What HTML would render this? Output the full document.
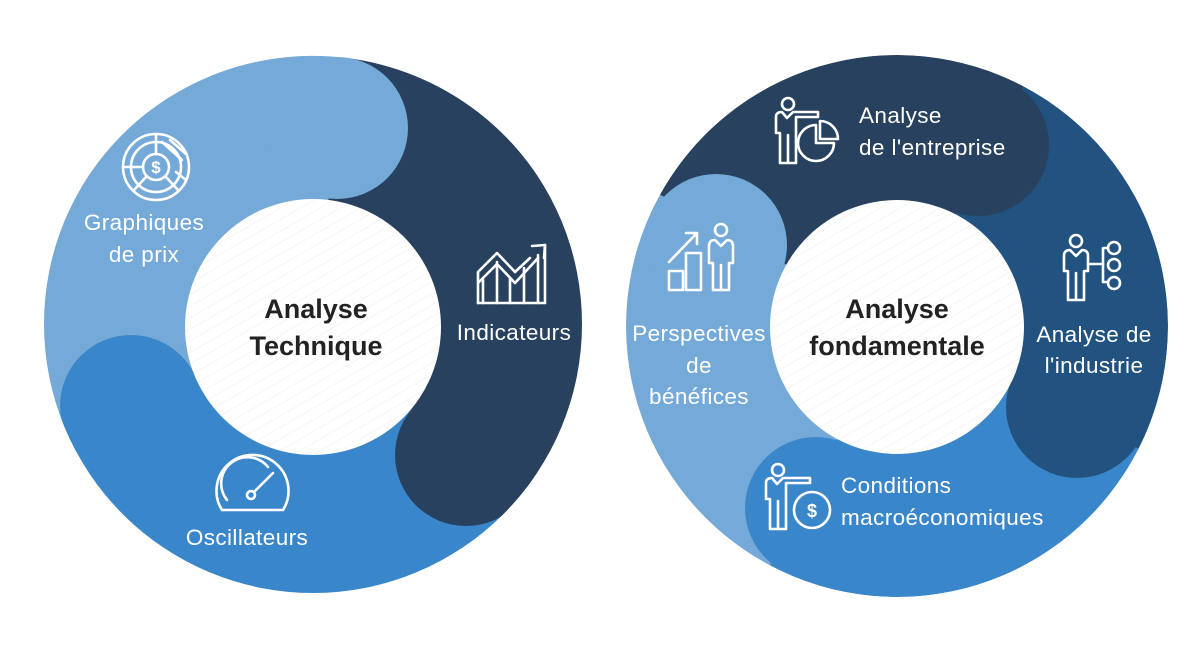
<!DOCTYPE html>
<html><head><meta charset="utf-8"><style>
html,body{margin:0;padding:0;background:#fff;}
svg{display:block;}
.lab{font-family:"Liberation Sans",sans-serif;font-size:22.5px;fill:#fff;letter-spacing:0.4px;}
.ctr{font-family:"Liberation Sans",sans-serif;font-size:27px;font-weight:bold;fill:#222;}
.ic{fill:none;stroke:#fff;stroke-width:2.6;stroke-linejoin:round;stroke-linecap:round;}
</style></head><body>
<svg width="1200" height="654" viewBox="0 0 1200 654" xmlns="http://www.w3.org/2000/svg">
<defs>
<pattern id="st" width="10" height="10" patternUnits="userSpaceOnUse" patternTransform="rotate(-30)">
<line x1="0" y1="0" x2="10" y2="0" stroke="#ececec" stroke-width="1"/></pattern>
<clipPath id="cl"><circle cx="313" cy="324" r="269"/></clipPath>
<clipPath id="cr"><circle cx="897" cy="326" r="271"/></clipPath>
</defs>

<!-- LEFT -->
<g clip-path="url(#cl)">
<path d="M313,326 L72.4,448.6 A270,270 0 0 1 345.9,57.9 Z" fill="#74a9d8"/>
<path d="M313,326 L345.9,57.9 A270,270 0 0 1 519.8,499.6 Z" fill="#27415e"/>
<path d="M313,326 L519.8,499.6 A270,270 0 0 1 72.4,448.6 Z" fill="#3a86cb"/>
<circle cx="337" cy="128" r="71" fill="#74a9d8"/>
<circle cx="466" cy="455" r="71" fill="#27415e"/>
<circle cx="131" cy="406" r="71" fill="#3a86cb"/>
</g>
<circle cx="313" cy="327" r="128" fill="#fff"/>
<circle cx="313" cy="327" r="128" fill="url(#st)"/>
<text class="ctr" x="316" y="318" text-anchor="middle">Analyse</text>
<text class="ctr" x="316" y="355" text-anchor="middle">Technique</text>

<text class="lab" x="144" y="230" text-anchor="middle">Graphiques</text>
<text class="lab" x="144" y="262" text-anchor="middle">de prix</text>
<text class="lab" x="514" y="340" text-anchor="middle">Indicateurs</text>
<text class="lab" x="247" y="545" text-anchor="middle">Oscillateurs</text>

<g class="ic">
<circle cx="156" cy="167" r="33"/>
<circle cx="156" cy="167" r="25"/>
<circle cx="156" cy="167" r="13"/>
<line x1="156" y1="134" x2="156" y2="154"/>
<line x1="123" y1="167" x2="143" y2="167"/>
<line x1="146" y1="177" x2="134" y2="190"/>
<line x1="166" y1="177" x2="178" y2="190"/>
<line x1="162" y1="142" x2="182" y2="160"/><line x1="170" y1="140" x2="186" y2="154"/><line x1="176" y1="172" x2="186" y2="180"/>
</g>
<text x="156" y="173" text-anchor="middle" font-family="Liberation Sans,sans-serif" font-size="17" font-weight="bold" fill="#fff">$</text>

<g class="ic">
<path d="M478,303 L545,303 L545,245"/>
<path d="M478,303 L478,272 L497,253 L515,272 L530,258"/>
<path d="M483,303 L483,280 M497,303 V262 M510,303 V278 M524,303 V268 M538,303 V255"/>
<path d="M478,283 L497,264 L515,283 L538,258"/>
<path d="M532,246 L545,245 L544,258"/>
</g>

<g class="ic">
<path d="M222,510 A36,36 0 1 1 283,510 Z"/>
<path d="M227,500 A26,26 0 0 1 268,467"/>
<circle cx="251" cy="495" r="4"/>
<line x1="254" y1="492" x2="273" y2="473"/>
</g>

<!-- RIGHT -->
<g clip-path="url(#cr)">
<path d="M897,326 L769.8,565.3 A271,271 0 0 1 659.9,194.6 Z" fill="#74a9d8"/>
<path d="M897,326 L659.9,194.6 A271,271 0 0 1 1024.2,86.7 Z" fill="#27415e"/>
<path d="M897,326 L1024.2,86.7 A271,271 0 0 1 1138.5,449 Z" fill="#22527f"/>
<path d="M897,326 L1138.5,449 A271,271 0 0 1 769.8,565.3 Z" fill="#3a86cb"/>
<circle cx="716" cy="245" r="71" fill="#74a9d8"/>
<circle cx="978" cy="145" r="71" fill="#27415e"/>
<circle cx="1077" cy="407" r="71" fill="#22527f"/>
<circle cx="816" cy="508" r="71" fill="#3a86cb"/>
</g>
<circle cx="897" cy="327" r="127" fill="#fff"/>
<circle cx="897" cy="327" r="127" fill="url(#st)"/>
<text class="ctr" x="897" y="318" text-anchor="middle">Analyse</text>
<text class="ctr" x="897" y="355" text-anchor="middle">fondamentale</text>

<text class="lab" x="859" y="123">Analyse</text>
<text class="lab" x="859" y="155">de l'entreprise</text>
<text class="lab" x="1094" y="342" text-anchor="middle">Analyse de</text>
<text class="lab" x="1094" y="373" text-anchor="middle">l'industrie</text>
<text class="lab" x="699" y="341" text-anchor="middle">Perspectives</text>
<text class="lab" x="699" y="373" text-anchor="middle">de</text>
<text class="lab" x="699" y="404" text-anchor="middle">bénéfices</text>
<text class="lab" x="841" y="493">Conditions</text>
<text class="lab" x="841" y="525">macroéconomiques</text>

<g class="ic">
<circle cx="788" cy="104" r="6"/>
<path d="M780,163 V133 L776,133 V117 Q776,112 782,112 L787,118 L793,112 L818,112 L818,117 L796,117 V163 Z M788,135 V163"/>
<path d="M816,125 A18,18 0 1 0 834,143 L816,143 Z"/>
<path d="M820,121 A18,18 0 0 1 838,139 L820,139 Z"/>
</g>
<g class="ic">
<circle cx="1076" cy="241" r="6"/>
<path d="M1068,300 V271 L1064,271 V256 Q1064,250 1070,250 L1076,256 L1082,250 Q1088,250 1088,256 V271 L1084,271 V300 Z M1076,273 V300"/>
<line x1="1090" y1="264" x2="1103" y2="264"/>
<path d="M1103,248 V282 M1103,248 H1108 M1103,282 H1108"/>
<circle cx="1114" cy="248" r="6"/><circle cx="1114" cy="265" r="6"/><circle cx="1114" cy="283" r="6"/>
</g>
<g class="ic">
<rect x="669" y="271" width="14" height="19"/>
<rect x="686" y="253" width="15" height="37"/>
<path d="M669,262 L696,234 M686,233 L697,233 L697,244"/>
<circle cx="721" cy="230" r="6"/>
<path d="M713,290 V263 L709,263 V246 Q709,240 715,240 L721,246 L727,240 Q733,240 733,246 V263 L729,263 V290 Z M721,265 V290"/>
</g>
<g class="ic">
<circle cx="778" cy="470" r="6"/>
<path d="M770,529 V499 L766,499 V483 Q766,478 772,478 L777,484 L783,478 L810,478 L810,483 L786,483 V529 Z M778,501 V529"/>
<circle cx="812" cy="510" r="18"/>
</g>
<text x="812" y="517" text-anchor="middle" font-family="Liberation Sans,sans-serif" font-size="18" font-weight="bold" fill="#fff">$</text>
</svg>
</body></html>
